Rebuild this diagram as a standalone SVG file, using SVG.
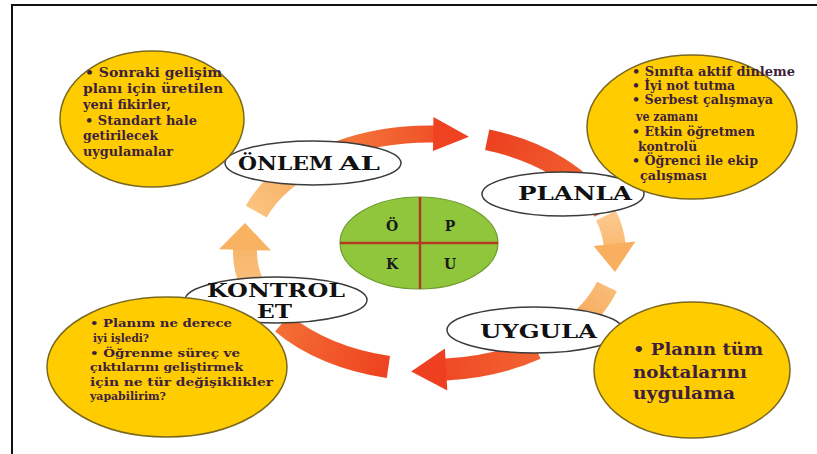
<svg xmlns="http://www.w3.org/2000/svg" width="817" height="454" viewBox="0 0 817 454">
  <style>
    .frame { fill: none; stroke: #111; stroke-width: 2; }
    .band { fill: none; stroke-linecap: butt; }
    .bubble { fill: #ffcc00; stroke: #7a6820; stroke-width: 1.5; }
    .tag { fill: #fff; stroke: #3c3c3c; stroke-width: 1.5; }
    .tagtxt { font-family: "DejaVu Serif", "Liberation Serif", serif; font-weight: bold; font-size: 19px; fill: #111; }
    .note { font-family: "DejaVu Serif", "Liberation Serif", serif; font-weight: bold; fill: #3d1f3d; }
    .hub { fill: #8fc63c; stroke: #6c9a2c; stroke-width: 1.2; }
    .cross { stroke: #b23a22; stroke-width: 2.5; }
    .hubtxt { font-family: "DejaVu Serif", "Liberation Serif", serif; font-weight: bold; font-size: 14px; fill: #1a1a1a; text-anchor: middle; }
  </style>
  <defs>
    <linearGradient id="gTop" gradientUnits="userSpaceOnUse" x1="337" y1="150" x2="470" y2="136">
      <stop offset="0" stop-color="#f57a3c"/>
      <stop offset="1" stop-color="#ee4221"/>
    </linearGradient>
    <linearGradient id="gTopRight" gradientUnits="userSpaceOnUse" x1="487" y1="140" x2="604" y2="212">
      <stop offset="0" stop-color="#ec4020"/>
      <stop offset="1" stop-color="#f26a34"/>
    </linearGradient>
    <linearGradient id="gRight" gradientUnits="userSpaceOnUse" x1="606" y1="215" x2="614" y2="273">
      <stop offset="0" stop-color="#fcc98e"/>
      <stop offset="1" stop-color="#f8ae5a"/>
    </linearGradient>
    <linearGradient id="gRightLow" gradientUnits="userSpaceOnUse" x1="607" y1="286" x2="561" y2="335">
      <stop offset="0" stop-color="#f9bc76"/>
      <stop offset="1" stop-color="#f6a050"/>
    </linearGradient>
    <linearGradient id="gBottom" gradientUnits="userSpaceOnUse" x1="536" y1="349" x2="411" y2="371">
      <stop offset="0" stop-color="#f26432"/>
      <stop offset="1" stop-color="#ee4020"/>
    </linearGradient>
    <linearGradient id="gBottomLeft" gradientUnits="userSpaceOnUse" x1="388" y1="367" x2="282" y2="323">
      <stop offset="0" stop-color="#ee4220"/>
      <stop offset="1" stop-color="#f36e34"/>
    </linearGradient>
    <linearGradient id="gLeft" gradientUnits="userSpaceOnUse" x1="253" y1="287" x2="245" y2="222">
      <stop offset="0" stop-color="#f9bf7c"/>
      <stop offset="1" stop-color="#f8b060"/>
    </linearGradient>
    <linearGradient id="gLeftTop" gradientUnits="userSpaceOnUse" x1="256" y1="212" x2="324" y2="155">
      <stop offset="0" stop-color="#fbc27e"/>
      <stop offset="1" stop-color="#f6a454"/>
    </linearGradient>
  </defs>

  <!-- page frame (left and top rules) -->
  <path class="frame" d="M12 454 V5 H817"/>

  <!-- cycle of arrows around the hub -->
  <g id="connectors">
    <path class="band" stroke="url(#gTop)" stroke-width="17" d="M337.5 149.8 A185 118 0 0 1 436.5 134.1"/>
    <polygon fill="#ee4221" points="433.4,117 469,136.8 433,151"/>

    <path class="band" stroke="url(#gTopRight)" stroke-width="21" d="M487.2 139.8 A185 118 0 0 1 603.8 211.6"/>

    <path class="band" stroke="url(#gRight)" stroke-width="22" d="M605.9 215.5 A185 118 0 0 1 614.7 245.8"/>
    <polygon fill="#f8b060" points="635.4,241.5 615,272 593.6,246.1"/>

    <path class="band" stroke="url(#gRightLow)" stroke-width="22" d="M606.9 286.5 A185 118 0 0 1 560.8 335.4"/>

    <path class="band" stroke="url(#gBottom)" stroke-width="22" d="M536.1 348.7 A185 118 0 0 1 442.9 369.7"/>
    <polygon fill="#ee4020" points="447.3,390.6 411.2,371.6 444.9,348.6"/>

    <path class="band" stroke="url(#gBottomLeft)" stroke-width="22" d="M388.4 367 A185 118 0 0 1 282.3 323"/>

    <path class="band" stroke="url(#gLeft)" stroke-width="24" d="M253.1 286.5 A185 118 0 0 1 245.1 247.9"/>
    <polygon fill="#f8b262" points="271,250.6 245,223 219,249.2"/>

    <path class="band" stroke="url(#gLeftTop)" stroke-width="24" d="M256.2 211.6 A185 118 0 0 1 323.9 155.3"/>
  </g>

  <!-- centre hub -->
  <g id="hub">
    <ellipse class="hub" cx="419" cy="243" rx="79" ry="46"/>
    <line class="cross" x1="420" y1="197" x2="420" y2="289"/>
    <line class="cross" x1="340" y1="243" x2="498" y2="243"/>
    <text class="hubtxt" x="392" y="231">Ö</text>
    <text class="hubtxt" x="450" y="231">P</text>
    <text class="hubtxt" x="392" y="269">K</text>
    <text class="hubtxt" x="450" y="269">U</text>
  </g>

  <!-- step labels -->
  <g id="step-onlem">
    <ellipse class="tag" cx="313" cy="163" rx="88" ry="22"/>
    <text class="tagtxt" y="170"><tspan x="238" textLength="95" lengthAdjust="spacingAndGlyphs">ÖNLEM</tspan> <tspan x="339" textLength="41" lengthAdjust="spacingAndGlyphs">AL</tspan></text>
  </g>
  <g id="step-planla">
    <ellipse class="tag" cx="563" cy="194" rx="81" ry="22"/>
    <text class="tagtxt" x="518" y="200" textLength="114" lengthAdjust="spacingAndGlyphs">PLANLA</text>
  </g>
  <g id="step-kontrol">
    <ellipse class="tag" cx="276" cy="300" rx="91" ry="23"/>
    <text class="tagtxt" x="207" y="297" textLength="138" lengthAdjust="spacingAndGlyphs">KONTROL</text>
    <text class="tagtxt" x="257" y="318" textLength="35" lengthAdjust="spacingAndGlyphs">ET</text>
  </g>
  <g id="step-uygula">
    <ellipse class="tag" cx="535" cy="330" rx="88" ry="23"/>
    <text class="tagtxt" x="480" y="338" textLength="117" lengthAdjust="spacingAndGlyphs">UYGULA</text>
  </g>

  <!-- note bubbles -->
  <g id="note-onlem">
    <ellipse class="bubble" cx="152" cy="119" rx="92" ry="68"/>
    <g class="note" font-size="13">
      <text x="85" y="77" textLength="137" lengthAdjust="spacingAndGlyphs">• Sonraki gelişim</text>
      <text x="83" y="93" textLength="140" lengthAdjust="spacingAndGlyphs">planı için  üretilen</text>
      <text x="83" y="109" textLength="88" lengthAdjust="spacingAndGlyphs">yeni fikirler,</text>
      <text x="85" y="125" textLength="112" lengthAdjust="spacingAndGlyphs">• Standart hale</text>
      <text x="83" y="140" textLength="75" lengthAdjust="spacingAndGlyphs">getirilecek</text>
      <text x="83" y="156" textLength="90" lengthAdjust="spacingAndGlyphs">uygulamalar</text>
    </g>
  </g>
  <g id="note-planla">
    <ellipse class="bubble" cx="692" cy="127" rx="105" ry="72"/>
    <g class="note" font-size="12">
      <text x="632" y="76" textLength="163" lengthAdjust="spacingAndGlyphs">• Sınıfta aktif dinleme</text>
      <text x="632" y="90" textLength="103" lengthAdjust="spacingAndGlyphs">• İyi not tutma</text>
      <text x="632" y="104" textLength="141" lengthAdjust="spacingAndGlyphs">• Serbest çalışmaya</text>
      <text x="636" y="121" textLength="62" lengthAdjust="spacingAndGlyphs">ve zamanı</text>
      <text x="632" y="136" textLength="123" lengthAdjust="spacingAndGlyphs">• Etkin öğretmen</text>
      <text x="638" y="151" textLength="59" lengthAdjust="spacingAndGlyphs">kontrolü</text>
      <text x="632" y="165" textLength="126" lengthAdjust="spacingAndGlyphs">• Öğrenci ile ekip</text>
      <text x="640" y="180" textLength="67" lengthAdjust="spacingAndGlyphs">çalışması</text>
    </g>
  </g>
  <g id="note-kontrol">
    <ellipse class="bubble" cx="167" cy="367" rx="120" ry="70"/>
    <g class="note" font-size="11.5">
      <text x="90" y="327" textLength="142" lengthAdjust="spacingAndGlyphs">• Planım ne derece</text>
      <text x="93" y="342" textLength="56" lengthAdjust="spacingAndGlyphs">iyi işledi?</text>
      <text x="90" y="357" textLength="150" lengthAdjust="spacingAndGlyphs">• Öğrenme süreç ve</text>
      <text x="90" y="371" textLength="153" lengthAdjust="spacingAndGlyphs">çıktılarını geliştirmek</text>
      <text x="90" y="386" textLength="183" lengthAdjust="spacingAndGlyphs">için ne tür değişiklikler</text>
      <text x="90" y="400" textLength="76" lengthAdjust="spacingAndGlyphs">yapabilirim?</text>
    </g>
  </g>
  <g id="note-uygula">
    <ellipse class="bubble" cx="692" cy="370" rx="98" ry="68"/>
    <g class="note" font-size="17">
      <text x="633" y="355" textLength="130" lengthAdjust="spacingAndGlyphs">• Planın tüm</text>
      <text x="633" y="378" textLength="114" lengthAdjust="spacingAndGlyphs">noktalarını</text>
      <text x="633" y="399" textLength="102" lengthAdjust="spacingAndGlyphs">uygulama</text>
    </g>
  </g>
</svg>
